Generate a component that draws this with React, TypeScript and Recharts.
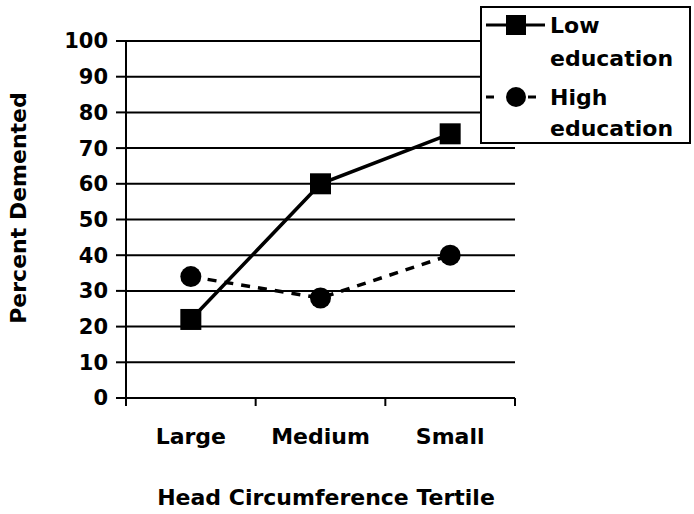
import { LineChart, Line, XAxis, YAxis, CartesianGrid, Legend, Label } from 'recharts';

const tertiles = ['Large', 'Medium', 'Small'];
const lowEducation = [22, 60, 74];
const highEducation = [34, 28, 40];
const yTicks = [0, 10, 20, 30, 40, 50, 60, 70, 80, 90, 100];

const data = tertiles.map((t, i) => ({ t, low: lowEducation[i], high: highEducation[i] }));

const FONT = '"DejaVu Sans", sans-serif';
const W = 694;
const H = 514;
const M = { top: 41, right: 179, left: 0, bottom: 0 };
const Y_W = 126;
const X_H = 116;
const PLOT_W = W - M.right - Y_W;
const PLOT_BOTTOM = H - X_H;
const BAND = PLOT_W / tertiles.length;

const SquareDot = (p: any) => (
  <rect key={`s${p.index}`} x={p.cx - 10.5} y={p.cy - 10.5} width={21} height={21} fill="#000" />
);
const CircleDot = (p: any) => <circle key={`c${p.index}`} cx={p.cx} cy={p.cy} r={10.5} fill="#000" />;

const XTick = (p: any) => {
  const left = p.x - BAND / 2;
  const right = p.x + BAND / 2;
  return (
    <g>
      <line x1={left} x2={left} y1={PLOT_BOTTOM} y2={PLOT_BOTTOM + 8} stroke="#000" strokeWidth={2} />
      {p.index === tertiles.length - 1 && (
        <line x1={right} x2={right} y1={PLOT_BOTTOM} y2={PLOT_BOTTOM + 8} stroke="#000" strokeWidth={2} />
      )}
      <text x={p.x} y={PLOT_BOTTOM + 30} dy="0.71em" textAnchor="middle" fontFamily={FONT} fontWeight="bold" fontSize={22} fill="#000">
        {p.payload.value}
      </text>
    </g>
  );
};

const LegendBox = () => {
  const txt = { fontFamily: FONT, fontWeight: 'bold' as const, fontSize: 22, fill: '#000' };
  return (
    <svg width={211} height={138}>
      <rect x={1} y={1} width={209} height={136} fill="#fff" stroke="#000" strokeWidth={2} />
      <line x1={6} x2={65} y1={19} y2={19} stroke="#000" strokeWidth={3} />
      <rect x={26} y={9} width={20} height={20} fill="#000" />
      <text x={70} y={19} dy="0.36em" {...txt}>Low</text>
      <text x={70} y={52} dy="0.36em" {...txt}>education</text>
      <line x1={6} x2={65} y1={91} y2={91} stroke="#000" strokeWidth={3} strokeDasharray="8 13" />
      <circle cx={36} cy={91} r={10} fill="#000" />
      <text x={70} y={91} dy="0.36em" {...txt}>High</text>
      <text x={70} y={122} dy="0.36em" {...txt}>education</text>
    </svg>
  );
};

export default function App() {
  return (
    <div style={{ position: 'absolute', left: 0, top: 0, width: W, height: H, background: '#fff' }}>
      <LineChart width={W} height={H} data={data} margin={M}>
        <CartesianGrid horizontal vertical={false} stroke="#000" strokeWidth={2} />
        <XAxis
          dataKey="t"
          scale="band"
          height={X_H}
          axisLine={{ stroke: '#000', strokeWidth: 2 }}
          tickLine={false}
          tick={<XTick />}
          interval={0}
        >
          <Label
            content={() => (
              <text x={326} y={497} dy="0.36em" textAnchor="middle" fontFamily={FONT} fontWeight="bold" fontSize={22} fill="#000">
                Head Circumference Tertile
              </text>
            )}
          />
        </XAxis>
        <YAxis
          width={Y_W}
          domain={[0, 100]}
          ticks={yTicks}
          interval={0}
          axisLine={{ stroke: '#000', strokeWidth: 2 }}
          tickLine={{ stroke: '#000', strokeWidth: 2 }}
          tickSize={10}
          tickMargin={8}
          tick={{ fill: '#000', fontFamily: FONT, fontWeight: 'bold', fontSize: 21 }}
        >
          <Label
            content={() => (
              <text
                x={18}
                y={208}
                textAnchor="middle"
                dy="0.36em"
                transform="rotate(-90 18 208)"
                fontFamily={FONT}
                fontWeight="bold"
                fontSize={22}
                fill="#000"
              >
                Percent Demented
              </text>
            )}
          />
        </YAxis>
        <Legend
          layout="vertical"
          align="center"
          verticalAlign="middle"
          content={() => <LegendBox />}
          wrapperStyle={{ position: 'absolute', left: 480, top: 6, width: 211, height: 138 }}
        />
        <Line
          dataKey="high"
          name="High education"
          stroke="#000"
          strokeWidth={3.5}
          strokeDasharray="9 8"
          dot={CircleDot}
          activeDot={false}
          isAnimationActive={false}
        />
        <Line
          dataKey="low"
          name="Low education"
          stroke="#000"
          strokeWidth={3.5}
          dot={SquareDot}
          activeDot={false}
          isAnimationActive={false}
        />
      </LineChart>
    </div>
  );
}
